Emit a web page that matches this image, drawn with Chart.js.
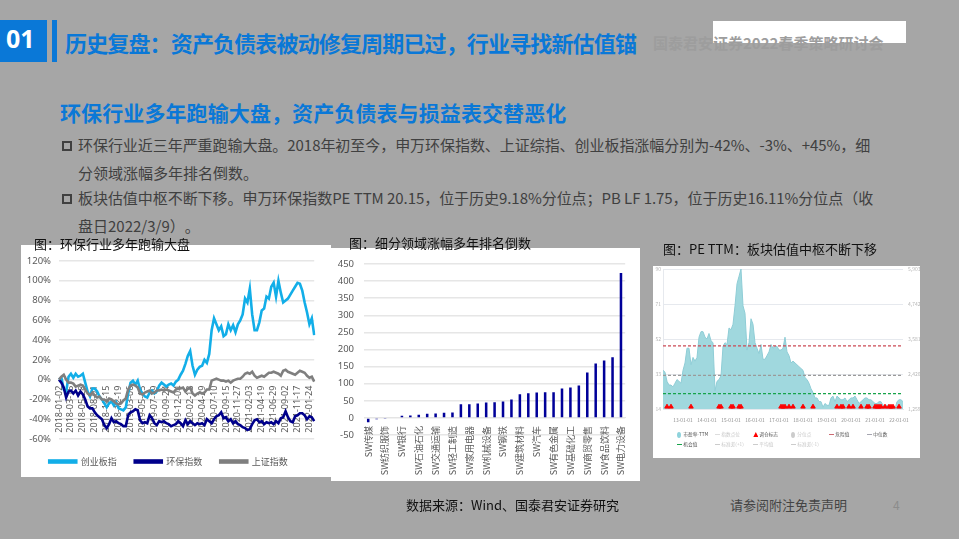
<!DOCTYPE html>
<html>
<head>
<meta charset="utf-8">
<script src="https://cdn.jsdelivr.net/npm/chart.js@4"></script>
<style>
  html, body { margin: 0; padding: 0; }
  body { width: 959px; height: 539px; background: #a6a6a6; position: relative; overflow: hidden; font-family: "Noto Sans CJK SC", sans-serif; text-spacing-trim: space-all; }
  .t { position: absolute; white-space: nowrap; line-height: 1; }
  .box { position: absolute; }
  .panel { position: absolute; background: #fff; }
  .panel canvas { filter: blur(0.3px); }
  .lg { position: absolute; font-size: 4.7px; line-height: 1; white-space: nowrap; }
  .sw { position: absolute; }
</style>
</head>
<body>
<div class="box" style="left:0;top:20px;width:47px;height:42px;background:#0a78d7"></div>
<div class="box" style="left:52px;top:20px;width:5px;height:42px;background:#0a78d7"></div>
<div class="t" style="left:6px;top:21px;font:bold 25px 'Open Sans',sans-serif;color:#fff">01</div>
<div class="t" style="left:65px;top:31px;font-size:22px;font-weight:700;color:#0a78d7;letter-spacing:-0.85px">历史复盘：资产负债表被动修复周期已过，行业寻找新估值锚</div>
<div class="box" style="left:713px;top:21px;width:193px;height:22px;background:#fff"></div>
<div class="t" style="left:653px;top:35px;font-size:15px;font-weight:700;color:#9d9d9d">国泰君安证券2022春季策略研讨会</div>

<div class="t" style="left:60px;top:102px;font-size:21px;font-weight:700;color:#0a78d7;letter-spacing:0.1px">环保行业多年跑输大盘，资产负债表与损益表交替恶化</div>
<div class="box" style="left:62px;top:141px;width:6px;height:6px;border:2px solid #404040"></div>
<div class="t" style="left:78px;top:137px;font-size:15px;color:#404040;letter-spacing:-0.05px">环保行业近三年严重跑输大盘。2018年初至今，申万环保指数、上证综指、创业板指涨幅分别为-42%、-3%、+45%，细</div>
<div class="t" style="left:78px;top:165px;font-size:15px;color:#404040">分领域涨幅多年排名倒数。</div>
<div class="box" style="left:62px;top:194px;width:6px;height:6px;border:2px solid #404040"></div>
<div class="t" style="left:78px;top:190px;font-size:15px;color:#404040;letter-spacing:-0.05px">板块估值中枢不断下移。申万环保指数PE TTM 20.15，位于历史9.18%分位点；PB LF 1.75，位于历史16.11%分位点（收</div>
<div class="t" style="left:78px;top:218px;font-size:15px;color:#404040">盘日2022/3/9）。</div>

<div class="panel" style="left:21px;top:245px;width:310px;height:232px"><canvas id="lineChart" width="310" height="232"></canvas></div>
<div class="panel" style="left:331px;top:248px;width:309px;height:233px"><canvas id="barChart" width="309" height="233"></canvas></div>
<div class="panel" style="left:653px;top:266px;width:267px;height:192px"><canvas id="peChart" width="267" height="192"></canvas></div>
<div id="peLegend"></div>

<div class="t" style="left:34px;top:237px;font-size:13px;color:#111">图：环保行业多年跑输大盘</div>
<div class="t" style="left:349px;top:236px;font-size:13px;color:#111">图：细分领域涨幅多年排名倒数</div>
<div class="t" style="left:663px;top:242px;font-size:13px;color:#111">图：PE TTM：板块估值中枢不断下移</div>

<div class="t" style="left:406px;top:498px;font-size:13px;color:#111">数据来源：Wind、国泰君安证券研究</div>
<div class="t" style="left:730px;top:498px;font-size:13px;color:#444">请参阅附注免责声明</div>
<div class="t" style="left:893px;top:499px;font-size:12px;color:#8c8c8c">4</div>

<script>
// chart 1: cumulative return
const lineTicks = ["2018-01-02","2018-03-15","2018-05-28","2018-08-01","2018-10-15","2018-12-19","2019-03-06","2019-05-15","2019-07-19","2019-09-24","2019-12-04","2020-02-18","2020-04-29","2020-07-10","2020-09-15","2020-11-27","2021-02-03","2021-04-19","2021-06-29","2021-09-02","2021-11-17","2022-01-24"];
const cybIndex = [0,2,-10,-12,3,6,2,6,3,4,6,-3,-12,-17,-9,-9,-12,-17,-20,-24,-28,-24,-22,-26,-23,-29,-30,-31,-28,-14,-3,-1,-5,-1,-10,-14,-17,-18,-13,-11,-14,-12,-6,-3,-5,-7,-5,-4,-6,-2,0,5,9,16,24,29,14,5,10,13,14,20,17,26,50,62,56,50,54,44,46,56,50,55,48,56,60,66,82,78,92,66,50,50,58,70,72,84,82,94,98,84,100,88,78,80,82,86,90,94,98,97,90,78,68,56,62,45];
const hbIndex = [0,-3,-8,-18,-12,-11,-14,-11,-16,-12,-15,-20,-27,-29,-29,-33,-36,-38,-40,-46,-49,-45,-39,-43,-42,-44,-45,-47,-47,-36,-33,-32,-30,-31,-41,-44,-43,-44,-36,-39,-44,-46,-42,-43,-42,-44,-45,-47,-46,-45,-42,-44,-47,-41,-45,-42,-44,-46,-44,-45,-44,-46,-40,-42,-44,-40,-37,-36,-33,-39,-38,-42,-40,-44,-42,-45,-46,-48,-49,-51,-50,-45,-41,-40,-43,-42,-45,-43,-44,-43,-45,-42,-44,-39,-38,-32,-38,-42,-43,-37,-36,-34,-34,-36,-40,-37,-38,-42];
const shIndex = [0,3,5,0,-3,-3,-4,-7,-6,-5,-6,-10,-14,-16,-13,-16,-18,-17,-20,-20,-22,-19,-20,-22,-24,-25,-24,-21,-19,-10,-6,-5,-6,-8,-14,-15,-13,-12,-11,-14,-13,-11,-11,-10,-11,-10,-11,-12,-13,-10,-9,-9,-8,-12,-9,-8,-14,-16,-14,-13,-14,-13,-10,-10,-1,0,1,0,-1,-1,-2,-1,-3,-1,0,1,1,3,6,7,6,8,4,2,3,4,3,5,7,7,8,7,6,4,9,10,8,7,6,5,7,9,8,7,4,2,3,-2];

// chart 2: sector gains, only every other name is printed in the source
const sectors = ["SW传媒","","SW纺织服饰","","SW银行","","SW石油石化","","SW交通运输","","SW轻工制造","","SW家用电器","","SW机械设备","","SW钢铁","","SW建筑材料","","SW汽车","","SW有色金属","","SW基础化工","","SW商贸零售","","SW食品饮料","","SW电力设备"];
const sectorGains = [-13,-4,-3,0,6,7,9,12,13,15,16,40,40,42,45,46,48,54,69,72,74,75,75,86,89,95,133,159,168,177,424];

// chart 3: PE TTM, roughly monthly
const peTickLabels = {10:"13-01-01",22:"14-01-01",34:"15-01-01",46:"16-01-01",58:"17-01-01",70:"18-01-01",82:"19-01-01",94:"20-01-01",106:"21-01-01",118:"22-01-01"};
const peValues = [35,34,29,27,27,26,28,30,29,28,35,39,47,47,38,42,40,42,53,56,56,53,52,55,51,50,24,29,30,32,48,50,49,58,57,60,70,82,86,90,70,66,46,50,63,60,50,47,44,49,41,41,43,45,49,47,48,48,46,46,47,53,45,43,39,40,39,38,37,36,35,31,30,28,25,23,20,20,18,18,15,17,16,16,20,21,18,21,20,19,19,20,18,19,20,20,21,19,17,18,19,20,20,19,19,18,17,17,18,18,16,16,16,16,15,15,14,18,19,19,18];
const rebalanceIdx = [2,4,14,28,29,34,35,38,39,59,60,61,63,65,70,75,87,89,90,93,95,99,102,103,106,107,108,109,111,113,114,115,118];
const dangerLine = 48.3, medianLine = 32.3, chanceLine = 22.3;
const peLeftTicks = [14,33,52,71,90];
const legendNames = [["市盈率-TTM","指数点位","调仓标志","分位点","危险值","中位数"],["机会值","标准差(+1)","平均值","标准差(-1)"]];

Chart.defaults.animation = false;
Chart.defaults.responsive = false;
Chart.defaults.font.family = "'Noto Sans CJK SC', sans-serif";

new Chart(document.getElementById("lineChart"), {
  type: "line",
  data: {
    labels: cybIndex.map((v, i) => i % 5 === 0 ? lineTicks[i / 5] : ""),
    datasets: [
      { label: "创业板指", data: cybIndex, borderColor: "#12aee8", borderWidth: 2.6, pointRadius: 0, order: 2 },
      { label: "环保指数", data: hbIndex, borderColor: "#00008b", borderWidth: 2.6, pointRadius: 0, order: 1 },
      { label: "上证指数", data: shIndex, borderColor: "#7f7f7f", borderWidth: 2.6, pointRadius: 0, order: 0 }
    ]
  },
  options: {
    layout: { padding: { top: 16, right: 15, bottom: 1, left: 0 } },
    plugins: {
      tooltip: { enabled: false },
      legend: {
        position: "bottom",
        labels: { boxWidth: 27, boxHeight: 2, padding: 18, color: "#595959", font: { size: 9 }, sort: (a, b) => a.datasetIndex - b.datasetIndex }
      }
    },
    scales: {
      x: {
        position: { y: 0 },
        grid: { display: false, drawTicks: false },
        border: { color: "#e4e4e4" },
        ticks: { autoSkip: false, minRotation: 90, maxRotation: 90, padding: 6, color: "#595959", font: { size: 9, family: "'Noto Sans', sans-serif" } }
      },
      y: {
        min: -60, max: 120,
        afterFit(s) { s.width = 38; },
        grid: { color: "#e6e6e6", lineWidth: 1.5, drawTicks: false },
        border: { display: false },
        ticks: { stepSize: 20, padding: 8, color: "#595959", font: { size: 9.5, family: "'Noto Sans', sans-serif" }, callback: v => v + "%" }
      }
    }
  }
});

new Chart(document.getElementById("barChart"), {
  type: "bar",
  data: {
    labels: sectors,
    datasets: [{ data: sectorGains, backgroundColor: "#000099", barPercentage: 0.3, categoryPercentage: 1 }]
  },
  options: {
    layout: { padding: { top: 16, right: 14, bottom: 46, left: 0 } },
    plugins: { tooltip: { enabled: false }, legend: { display: false } },
    scales: {
      x: {
        position: { y: 0 },
        grid: { display: false, drawTicks: false },
        border: { color: "#e4e4e4" },
        ticks: { autoSkip: false, minRotation: 90, maxRotation: 90, padding: 8, color: "#595959", font: { size: 9 } }
      },
      y: {
        min: -50, max: 450,
        afterFit(s) { s.width = 33; },
        grid: { color: "#e6e6e6", lineWidth: 1.5, drawTicks: false },
        border: { display: false },
        ticks: { stepSize: 50, padding: 10, color: "#595959", font: { size: 9.5, family: "'Noto Sans', sans-serif" } }
      }
    }
  }
});

const hLine = (label, value, color) => ({
  type: "line", label, data: peValues.map(() => value), borderColor: color, borderWidth: 1.2,
  borderDash: [3, 2], pointRadius: 0, fill: false, order: 1
});

new Chart(document.getElementById("peChart"), {
  type: "line",
  data: {
    labels: peValues.map((v, i) => peTickLabels[i] || ""),
    datasets: [
      { label: "调仓标志", data: peValues.map((v, i) => rebalanceIdx.includes(i) ? 15.2 : null), showLine: false, pointStyle: "triangle", pointRadius: 2.6, pointBackgroundColor: "#ff0000", pointBorderColor: "#ff0000", order: 0 },
      hLine("危险值", dangerLine, "#cc4a55"),
      hLine("中位数", medianLine, "#9a9a9a"),
      hLine("机会值", chanceLine, "#16a34a"),
      { label: "市盈率-TTM", data: peValues, borderColor: "#8fcdd6", borderWidth: 1, backgroundColor: "#a0d8de", fill: "origin", pointRadius: 0, order: 2 }
    ]
  },
  options: {
    layout: { autoPadding: false, padding: { top: 3, right: 0, bottom: 0, left: 0 } },
    plugins: { tooltip: { enabled: false }, legend: { display: false } },
    scales: {
      x: {
        offset: false,
        afterFit(s) { s.height = 49; s.paddingLeft = 0; s.paddingRight = 0; },
        grid: { display: false },
        border: { color: "#e6e9ee" },
        ticks: { autoSkip: false, maxRotation: 0, minRotation: 0, padding: 0, color: "#8a8a8a", font: { size: 4.8 } }
      },
      y: {
        min: 14, max: 90,
        afterFit(s) { s.width = 10; s.paddingTop = 0; s.paddingBottom = 0; },
        afterBuildTicks(s) { s.ticks = peLeftTicks.map(value => ({ value })); },
        grid: { color: "#e6e9ee", drawTicks: false },
        border: { color: "#e6e9ee" },
        ticks: { padding: 2, color: "#b5b5b5", font: { size: 5 } }
      },
      y1: {
        position: "right",
        min: 1259, max: 5903,
        afterFit(s) { s.width = 17; s.paddingTop = 0; s.paddingBottom = 0; },
        afterBuildTicks(s) { s.ticks = [1259, 2420, 3581, 4742, 5903].map(value => ({ value })); },
        grid: { display: false, drawTicks: false },
        border: { display: false },
        ticks: { padding: 5, color: "#b5b5b5", font: { size: 5 }, callback: v => v.toLocaleString("en-US") }
      }
    }
  }
});

// PE chart legend, two rows of six slots
const legendBox = document.getElementById("peLegend");
const swatchCss = {
  "市盈率-TTM": "width:4px;height:6px;border-radius:50%;background:#8fd3dc",
  "指数点位": "width:5px;height:1px;background:#ddd;margin-top:2px",
  "调仓标志": "width:5px;height:5px;background:#f00;clip-path:polygon(50% 0,100% 100%,0 100%)",
  "分位点": "width:4px;height:6px;border-radius:50%;background:#ccc",
  "危险值": "width:5px;height:1px;background:#cc6a72;margin-top:2px",
  "中位数": "width:5px;height:1px;background:#a5a5b0;margin-top:2px",
  "机会值": "width:5px;height:1px;background:#16a34a;margin-top:2px",
  "标准差(+1)": "width:5px;height:1px;background:#ccc;margin-top:2px",
  "平均值": "width:5px;height:1px;background:#ccc;margin-top:2px",
  "标准差(-1)": "width:5px;height:1px;background:#ccc;margin-top:2px"
};
const activeNames = ["市盈率-TTM", "调仓标志", "危险值", "中位数", "机会值"];
legendNames.forEach((row, r) => row.forEach((name, c) => {
  const x = 683.3 + c * 38, y = 432 + r * 10;
  const sw = document.createElement("span");
  sw.className = "sw";
  sw.style.cssText = swatchCss[name];
  sw.style.left = (x - 6) + "px";
  sw.style.top = y + "px";
  legendBox.appendChild(sw);
  const txt = document.createElement("span");
  txt.className = "lg";
  txt.textContent = name;
  txt.style.left = x + "px";
  txt.style.top = y + "px";
  txt.style.color = activeNames.includes(name) ? "#555" : "#c8c8c8";
  legendBox.appendChild(txt);
}));
</script>
</body>
</html>
